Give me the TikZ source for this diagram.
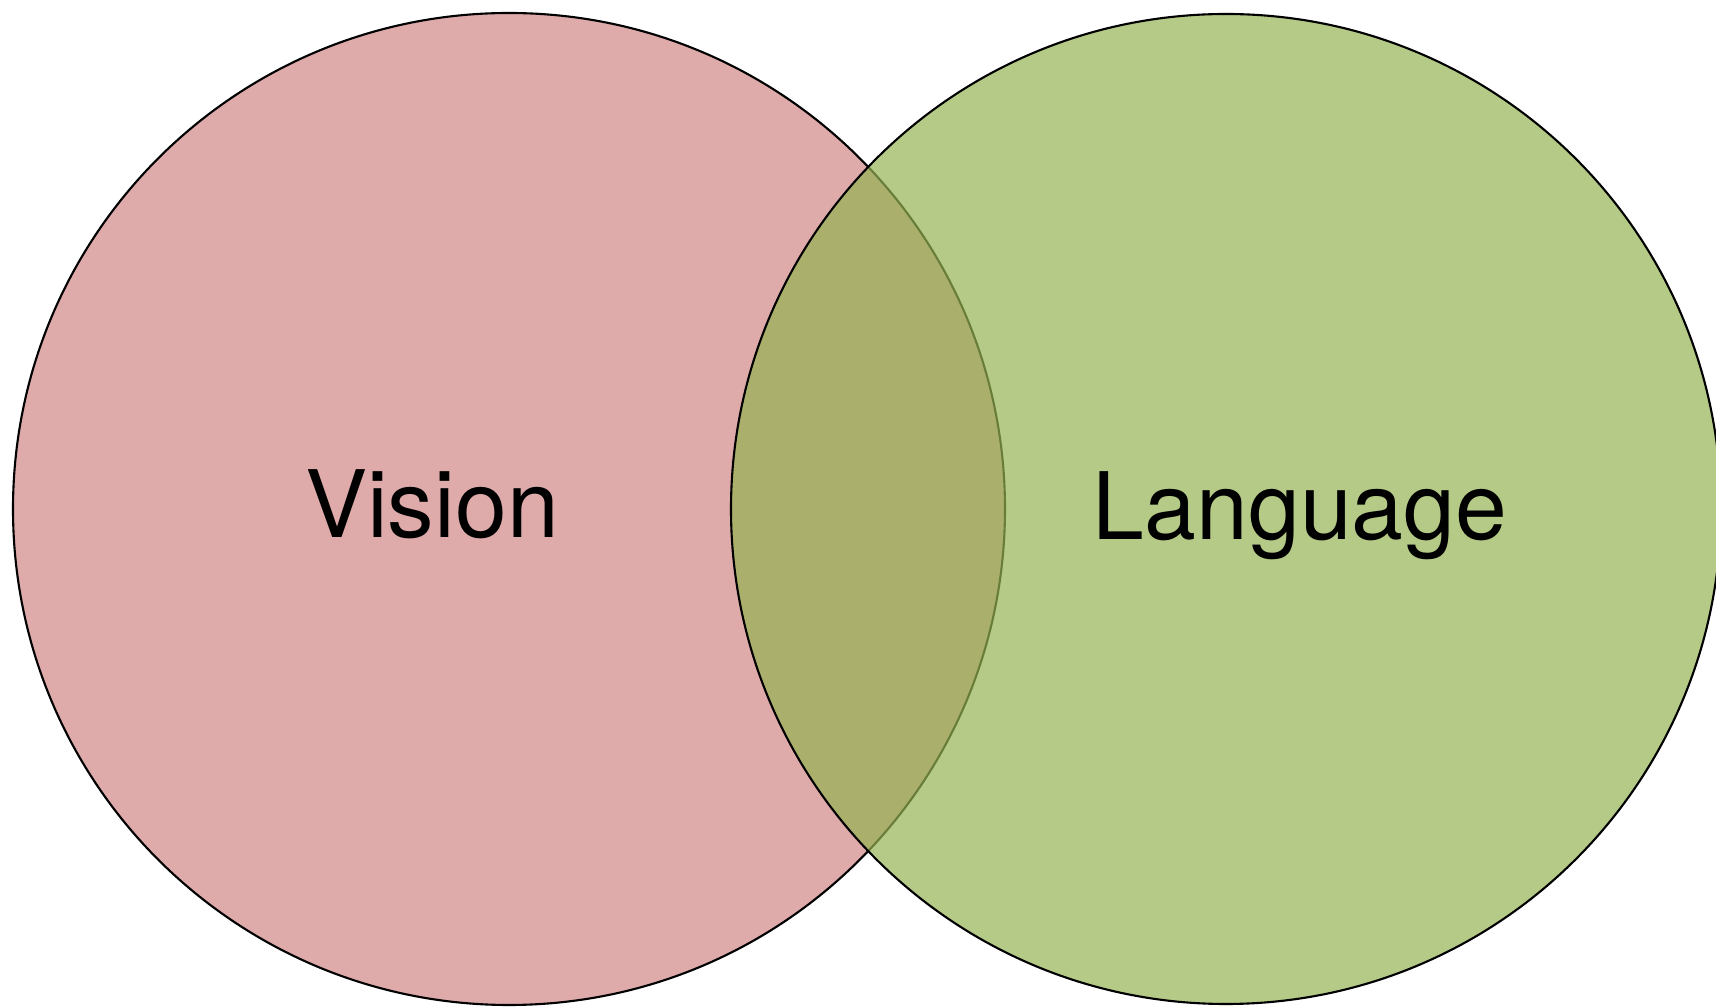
\documentclass[tikz,border=0pt]{standalone}
\usepackage{fontspec}
\setmainfont{TeX Gyre Heros}
\usepackage{tikz}
\usetikzlibrary{positioning}

\definecolor{rosa}{RGB}{223,170,170}
\definecolor{verde}{RGB}{148,179,82}

\begin{document}
\begin{tikzpicture}[every node/.style={circle, inner sep=0pt}]
          \useasboundingbox (0,0) rectangle (17.16,10.07);
          \clip (0,0) rectangle (17.16,10.07);
          % Conjuntos
          \node[draw=black, line width=0.6pt, fill=rosa, minimum size=9.92cm] (v) at (5.09,4.98) {};
          \node[draw=black, line width=0.6pt, fill=verde, fill opacity=0.7, minimum size=9.90cm] (l) at (12.26,4.98) {};

          % Etiquetas
          \node[anchor=base, font=\fontsize{26.5}{30}\selectfont] (tv) at (4.32,4.69) {Vision};
          \node[anchor=base, font=\fontsize{26.5}{30}\selectfont] (tl) at (13.00,4.67) {Language};
        \end{tikzpicture}
\end{document}
